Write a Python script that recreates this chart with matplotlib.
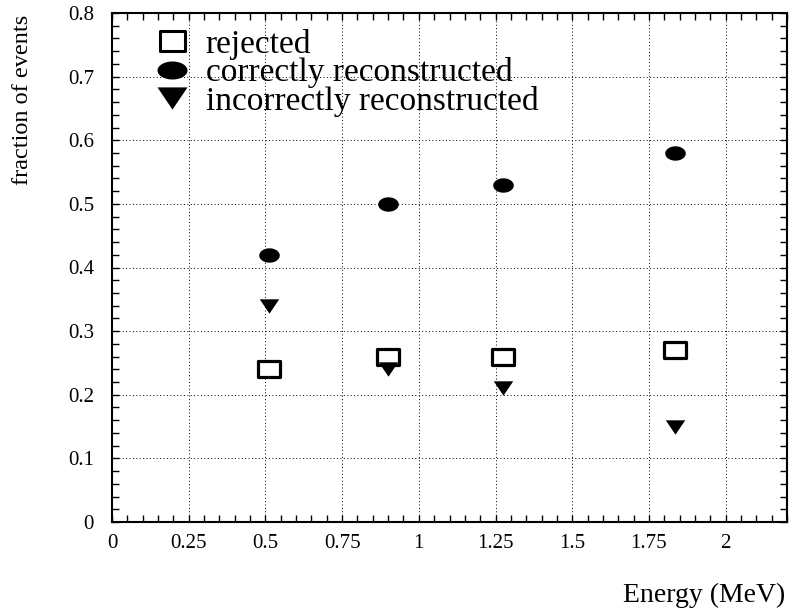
import matplotlib
matplotlib.use("Agg")
import matplotlib.pyplot as plt
from matplotlib.path import Path
from matplotlib.lines import Line2D
from matplotlib.ticker import MultipleLocator, FixedLocator
import numpy as np

# Data
energy = [0.511, 0.898, 1.275, 1.836]
rejected = [0.24, 0.26, 0.26, 0.27]
correct = [0.42, 0.50, 0.53, 0.58]
incorrect = [0.34, 0.24, 0.21, 0.15]
labels = ["rejected", "correctly reconstructed", "incorrectly reconstructed"]
xticks = [0, 0.25, 0.5, 0.75, 1, 1.25, 1.5, 1.75, 2]
xticklabels = ["0", "0.25", "0.5", "0.75", "1", "1.25", "1.5", "1.75", "2"]
yticks = [0, 0.1, 0.2, 0.3, 0.4, 0.5, 0.6, 0.7, 0.8]
yticklabels = ["0", "0.1", "0.2", "0.3", "0.4", "0.5", "0.6", "0.7", "0.8"]

plt.rcParams['font.family'] = ['Liberation Serif', 'DejaVu Serif']

# Stretched marker shapes (the reference is horizontally stretched)
t = np.linspace(0, 2 * np.pi, 60)
ellipse = Path(np.column_stack([np.cos(t), 0.7 * np.sin(t)]), closed=True)
rect = Path([(-1, -0.78), (1, -0.78), (1, 0.78), (-1, 0.78), (-1, -0.78)],
            [Path.MOVETO, Path.LINETO, Path.LINETO, Path.LINETO, Path.CLOSEPOLY])
tri = Path([(-1, 0.74), (1, 0.74), (0, -0.74), (-1, 0.74)],
           [Path.MOVETO, Path.LINETO, Path.LINETO, Path.CLOSEPOLY])

fig = plt.figure(figsize=(7.89, 6.11), dpi=100)
W, H = 789, 611
ax = fig.add_axes([112 / W, 1 - 522 / H, (787 - 112) / W, (522 - 13) / H])

ax.plot(energy, rejected, linestyle='none', marker=rect, markersize=15.2,
        markerfacecolor='white', markeredgecolor='black', markeredgewidth=2.3, zorder=3)
ax.plot(energy, correct, linestyle='none', marker=ellipse, markersize=14.8,
        markerfacecolor='black', markeredgecolor='black', markeredgewidth=0, zorder=3)
ax.plot(energy, incorrect, linestyle='none', marker=tri, markersize=14.0,
        markerfacecolor='black', markeredgecolor='black', markeredgewidth=0, zorder=4)

ax.set_xlim(0, 2.2)
ax.set_ylim(0, 0.8)
ax.xaxis.set_major_locator(FixedLocator(xticks))
ax.set_xticklabels(xticklabels)
ax.yaxis.set_major_locator(FixedLocator(yticks))
ax.set_yticklabels(yticklabels)
ax.xaxis.set_minor_locator(MultipleLocator(0.05))
ax.yaxis.set_minor_locator(MultipleLocator(0.02))
ax.tick_params(which='both', direction='in', top=True, right=True, width=1.0, color='black')
ax.tick_params(which='major', length=5)
ax.tick_params(which='minor', length=5)
ax.tick_params(axis='x', which='major', labelsize=15, pad=9)
ax.tick_params(axis='y', which='major', labelsize=15, pad=13)
for s in ax.spines.values():
    s.set_linewidth(1.5)
ax.grid(True, which='major', linestyle=(0, (1, 2.5)), color='black', linewidth=0.7)
ax.set_axisbelow(True)

handles = [
    Line2D([], [], linestyle='none', marker=rect, markersize=18, markerfacecolor='white',
           markeredgecolor='black', markeredgewidth=2.2),
    Line2D([], [], linestyle='none', marker=Path(np.column_stack([np.cos(t), 0.6 * np.sin(t)]), closed=True),
           markersize=21.6, markerfacecolor='black', markeredgewidth=0),
    Line2D([], [], linestyle='none', marker=tri, markersize=21.6, markerfacecolor='black',
           markeredgewidth=0),
]
leg = ax.legend(handles, labels, loc='upper left', bbox_to_anchor=(0.045, 0.995), frameon=False,
                fontsize=24, handlelength=1.0, handletextpad=0.5, labelspacing=-0.08,
                borderaxespad=0.0)

fig.text(23 / W, 1 - 100 / H, "fraction of events", rotation=90, ha='center', va='center', fontsize=17.5)
fig.text(785 / W, 1 - 595 / H, "Energy (MeV)", ha='right', va='center', fontsize=20)

fig.savefig("out.png", dpi=100)
